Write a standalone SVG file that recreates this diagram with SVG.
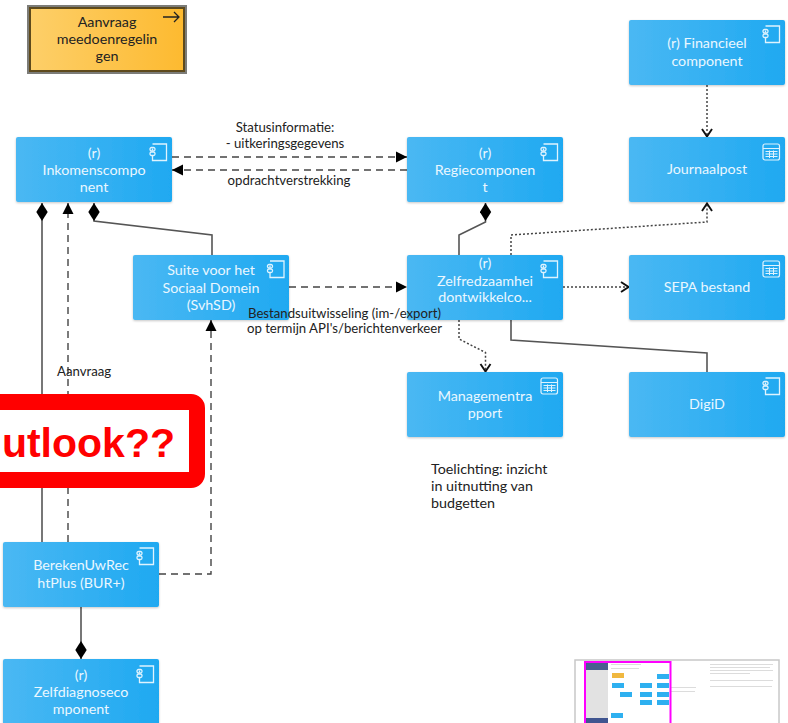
<svg xmlns="http://www.w3.org/2000/svg" width="788" height="723" viewBox="0 0 788 723">
<defs>
<linearGradient id="b" x1="0" y1="0" x2="1" y2="0"><stop offset="0" stop-color="#4ab8f3"/><stop offset="1" stop-color="#1fa9f1"/></linearGradient>
<linearGradient id="o" x1="0" y1="0" x2="1" y2="0"><stop offset="0" stop-color="#fdcf69"/><stop offset="1" stop-color="#fdba30"/></linearGradient>
<filter id="s" x="-5%" y="-5%" width="110%" height="115%"><feDropShadow dx="0" dy="1" stdDeviation="1" flood-color="#000" flood-opacity=".22"/></filter>
<filter id="bl" x="-5%" y="-5%" width="110%" height="110%"><feGaussianBlur stdDeviation="0.6"/></filter>
<marker id="dia" markerUnits="userSpaceOnUse" markerWidth="18" markerHeight="12" refX="18" refY="6" viewBox="0 0 18 12" orient="auto"><path d="M0 6L9 0.300L18 6L9 11.700Z" fill="#000"/></marker>
<marker id="tri" markerUnits="userSpaceOnUse" markerWidth="11" markerHeight="12" refX="11" refY="6" viewBox="0 0 11 12" orient="auto"><path d="M0 0.500L11 6L0 11.500Z" fill="#000"/></marker>
<marker id="open" markerUnits="userSpaceOnUse" markerWidth="11" markerHeight="14" refX="10" refY="7" viewBox="0 0 11 14" orient="auto"><path d="M2 2L9.500 7L2 12" fill="none" stroke="#111" stroke-width="1.900"/></marker>
<g id="cmp" fill="none" stroke="#dff3fe" stroke-width="1.300"><path d="M3 1H17V17.500H3V12.500M3 7.500V5.500"/><rect x="0.500" y="4.500" width="5" height="3.500" rx="1.500"/><rect x="0.500" y="9" width="5" height="3.500" rx="1.500"/></g>
<g id="tbl" fill="none" stroke="#dff3fe" stroke-width="1.200"><rect x="0.500" y="1" width="16.500" height="16" rx="2"/><path d="M0.500 5.500H17M3 8.500H15M3 11H15M3 13.500H15M7 7.500V15M11 7.500V15" stroke-width="1"/></g>
</defs>
<style>
.n{fill:url(#b);filter:url(#s)}
.t{font-family:Lato,"Liberation Sans",sans-serif;font-size:14.300px;fill:#eaf7ff;text-anchor:middle}
.l{font-family:Lato,"Liberation Sans",sans-serif;font-size:13.200px;fill:#222}
.e{font-family:Lato,"Liberation Sans",sans-serif;font-size:14.300px;fill:#222}
.c{fill:none;stroke:#555;stroke-width:1.600}
.d{fill:none;stroke:#444;stroke-width:1.400;stroke-dasharray:7 5}
.p{fill:none;stroke:#444;stroke-width:1.500;stroke-dasharray:2 2}
</style>
<rect width="788" height="723" fill="#fff"/>
<g id="connectors">
<path class="c" d="M42 542V203" marker-end="url(#dia)"/>
<path class="d" d="M68 542V203" marker-end="url(#tri)"/>
<path class="c" d="M212 255V235L94 221V203" marker-end="url(#dia)"/>
<path class="d" d="M172 157H407" marker-end="url(#tri)"/>
<path class="d" d="M407 170H172" marker-end="url(#tri)"/>
<path class="d" d="M289 287H407" marker-end="url(#tri)"/>
<path class="d" d="M159 574H211V320" marker-end="url(#tri)"/>
<path class="c" d="M459 255V235L485.500 222V203" marker-end="url(#dia)"/>
<path class="p" d="M707 85V137" marker-end="url(#open)"/>
<path class="p" d="M511 255V235L707 222V203" marker-end="url(#open)"/>
<path class="p" d="M563 287H629" marker-end="url(#open)"/>
<path class="p" d="M459 320V339L485.500 352.500V372" marker-end="url(#open)"/>
<path class="c" d="M511 320V340L707 353V372"/>
<path class="c" d="M81 607V659" marker-end="url(#dia)"/>
</g>
<g id="n-aanvraag"><rect x="27.500" y="5.500" width="159" height="68" fill="#7c7c78" stroke="#7c7c78"/><rect x="30" y="8" width="154" height="63" fill="url(#o)" stroke="#5e4a1c" stroke-width="2"/>
<path d="M163 17H179M174 12L179 17L174 22" fill="none" stroke="#222" stroke-width="1.300"/>
<text class="e" text-anchor="middle" x="107" y="26.500">Aanvraag</text><text class="e" text-anchor="middle" x="107" y="44">meedoenregelin</text><text class="e" text-anchor="middle" x="107" y="60.500">gen</text></g>
<g id="n-inkomen"><rect class="n" x="16" y="137" width="156" height="65" rx="2"/><use href="#cmp" x="149.500" y="143"/><text class="t" x="94" y="157.500">(r)</text><text class="t" x="94" y="174.500">Inkomenscompo</text><text class="t" x="94" y="191.500">nent</text></g>
<g id="n-regie"><rect class="n" x="407" y="137" width="156" height="65" rx="2"/><use href="#cmp" x="540.500" y="143"/><text class="t" x="485" y="157.500">(r)</text><text class="t" x="485" y="174.500">Regiecomponen</text><text class="t" x="485" y="191.500">t</text></g>
<g id="n-financieel"><rect class="n" x="629" y="20" width="156" height="65" rx="2"/><use href="#cmp" x="762.500" y="25"/><text class="t" x="707" y="48">(r) Financieel</text><text class="t" x="707" y="65.500">component</text></g>
<g id="n-journaal"><rect class="n" x="629" y="137" width="156" height="65" rx="2"/><use href="#tbl" x="762.500" y="143"/><text class="t" x="707" y="174">Journaalpost</text></g>
<g id="n-suite"><rect class="n" x="133" y="255" width="156" height="65" rx="2"/><use href="#cmp" x="267" y="260"/><text class="t" x="211" y="275">Suite voor het</text><text class="t" x="211" y="292.500">Sociaal Domein</text><text class="t" x="211" y="309.500">(SvhSD)</text></g>
<g id="n-zelf"><rect class="n" x="407" y="255" width="156" height="65" rx="2"/><use href="#cmp" x="540.500" y="260"/><text class="t" x="485" y="268">(r)</text><text class="t" x="485" y="285.500">Zelfredzaamhei</text><text class="t" x="485" y="302">dontwikkelco...</text></g>
<g id="n-sepa"><rect class="n" x="629" y="255" width="156" height="65" rx="2"/><use href="#tbl" x="762.500" y="260"/><text class="t" x="707" y="292">SEPA bestand</text></g>
<g id="n-mgmt"><rect class="n" x="407" y="372" width="156" height="65" rx="2"/><use href="#tbl" x="540.500" y="377"/><text class="t" x="485" y="401">Managementra</text><text class="t" x="485" y="418">pport</text></g>
<g id="n-digid"><rect class="n" x="629" y="372" width="156" height="65" rx="2"/><use href="#cmp" x="762.500" y="377"/><text class="t" x="707" y="409">DigiD</text></g>
<g id="n-bur"><rect class="n" x="3" y="542" width="156" height="65" rx="2"/><use href="#cmp" x="136.500" y="547"/><text class="t" x="81" y="570">BerekenUwRec</text><text class="t" x="81" y="587.500">htPlus (BUR+)</text></g>
<g id="n-zelfdiag"><rect class="n" x="3" y="659" width="156" height="66" rx="2"/><use href="#cmp" x="136.500" y="665"/><text class="t" x="81" y="679.500">(r)</text><text class="t" x="81" y="697">Zelfdiagnoseco</text><text class="t" x="81" y="713.500">mponent</text></g>
<g id="labels">
<text class="l" x="285" y="132" text-anchor="middle">Statusinformatie:</text><text class="l" x="285" y="148" text-anchor="middle">- uitkeringsgegevens</text>
<text class="l" x="289" y="185" text-anchor="middle">opdrachtverstrekking</text>
<text class="l" x="344.500" y="317.500" text-anchor="middle">Bestandsuitwisseling (im-/export)</text><text class="l" x="344.500" y="333" text-anchor="middle">op termijn API's/berichtenverkeer</text>
<text class="l" x="57" y="376">Aanvraag</text>
<text class="e" x="431" y="474">Toelichting: inzicht</text><text class="e" x="431" y="490.500">in uitnutting van</text><text class="e" x="431" y="507.500">budgetten</text>
</g>
<g id="callout"><rect x="-30" y="402" width="227" height="78" rx="6" fill="#fff" stroke="#f00" stroke-width="16"/>
<text x="175" y="457" text-anchor="end" font-family="'Liberation Sans',Arial,sans-serif" font-weight="700" font-size="41" fill="#f00">utlook??</text></g>
<g id="thumbnail"><rect x="575" y="660" width="204" height="70" fill="#fff" stroke="#c8c8c8" stroke-width="1.500"/>
<g filter="url(#bl)">
<rect x="585" y="663" width="23" height="7" fill="#4a5f8f"/><rect x="585" y="670" width="23" height="48" fill="#e2e2e2"/>
<rect x="585" y="718" width="23" height="5" fill="#3f5590"/>
<rect x="612" y="673" width="12" height="5" fill="#f0b840"/>
<g fill="#2fb0f0"><rect x="657" y="674" width="12" height="5"/><rect x="612" y="683" width="12" height="5"/><rect x="640" y="683" width="12" height="5"/><rect x="657" y="683" width="12" height="5"/><rect x="620" y="692" width="12" height="5"/><rect x="640" y="692" width="12" height="5"/><rect x="657" y="692" width="12" height="5"/><rect x="640" y="700" width="12" height="5"/><rect x="657" y="700" width="12" height="5"/><rect x="611" y="713" width="12" height="5"/></g>
<g fill="#dcdcdc"><rect x="611" y="664" width="30" height="1"/><rect x="611" y="668" width="28" height="1"/><rect x="710" y="664" width="63" height="1"/><rect x="710" y="667" width="60" height="1"/><rect x="710" y="670" width="63" height="1"/><rect x="710" y="673" width="40" height="1"/><rect x="710" y="680" width="63" height="1"/><rect x="710" y="686" width="62" height="1"/><rect x="671" y="687" width="25" height="1"/><rect x="671" y="691" width="24" height="1"/></g>
</g>
<rect x="585" y="662" width="85.500" height="70" fill="none" stroke="#f0f" stroke-width="2"/></g>
</svg>
